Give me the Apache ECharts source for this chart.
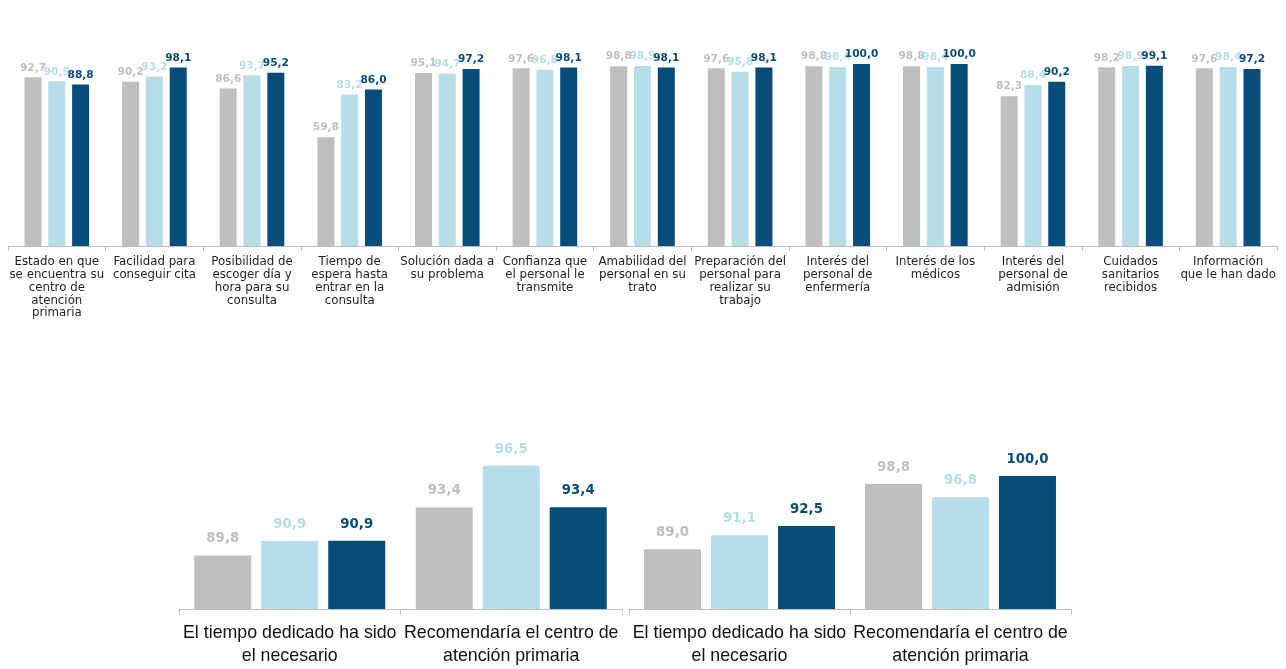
<!DOCTYPE html>
<html>
<head>
<meta charset="utf-8">
<script src="https://cdn.jsdelivr.net/npm/echarts@6/dist/echarts.min.js"></script>
<style>
html,body{margin:0;padding:0;background:#ffffff;}
#c{width:1286px;height:669px;}
</style>
</head>
<body>
<div id="c"></div>
<script>
// ---- Data ----
var topCategories = [
  'Estado en que\nse encuentra su\ncentro de\natención\nprimaria',
  'Facilidad para\nconseguir cita',
  'Posibilidad de\nescoger día y\nhora para su\nconsulta',
  'Tiempo de\nespera hasta\nentrar en la\nconsulta',
  'Solución dada a\nsu problema',
  'Confianza que\nel personal le\ntransmite',
  'Amabilidad del\npersonal en su\ntrato',
  'Preparación del\npersonal para\nrealizar su\ntrabajo',
  'Interés del\npersonal de\nenfermería',
  'Interés de los\nmédicos',
  'Interés del\npersonal de\nadmisión',
  'Cuidados\nsanitarios\nrecibidos',
  'Información\nque le han dado'
];
var topGray  = [92.7, 90.2, 86.6, 59.8, 95.1, 97.6, 98.8, 97.6, 98.8, 98.8, 82.3, 98.2, 97.6];
var topLight = [90.5, 93.2, 93.7, 83.2, 94.7, 96.8, 98.9, 95.8, 98.4, 98.4, 88.4, 98.9, 98.4];
var topDark  = [88.8, 98.1, 95.2, 86.0, 97.2, 98.1, 98.1, 98.1, 100.0, 100.0, 90.2, 99.1, 97.2];

var bottomCategories = [
  'El tiempo dedicado ha sido\nel necesario',
  'Recomendaría el centro de\natención primaria'
];
var leftGray  = [89.8, 93.4];
var leftLight = [90.9, 96.5];
var leftDark  = [90.9, 93.4];
var rightGray  = [89.0, 98.8];
var rightLight = [91.1, 96.8];
var rightDark  = [92.5, 100.0];

// ---- Styles ----
var C_GRAY = '#bfbfbf', C_LIGHT = '#b7dde8', C_DARK = '#074d7b';
function fmt(p){ return p.value.toFixed(1).replace('.', ','); }

function mkSeries(name, data, color, gi, opts){
  return {
    name: name, type: 'bar', xAxisIndex: gi, yAxisIndex: gi,
    data: data,
    barWidth: opts.barWidth, barGap: opts.barGap,
    itemStyle: {color: color},
    label: {
      show: true, position: 'top', distance: opts.dist,
      formatter: fmt, color: color,
      fontFamily: 'DejaVu Sans', fontWeight: 'bold', fontSize: opts.fs
    },
    emphasis: {disabled: true},
    animation: false
  };
}

function mkX(gi, cats, lab){
  return {
    type: 'category', gridIndex: gi, data: cats,
    axisLine: {show: true, lineStyle: {color: '#bfbfbf', width: 1}},
    axisTick: {show: true, length: lab.tick, lineStyle: {color: '#bfbfbf'}},
    axisLabel: {
      interval: 0, margin: lab.margin, color: lab.color,
      fontFamily: lab.font, fontSize: lab.fs, lineHeight: lab.lh
    },
    splitLine: {show: false}
  };
}
function mkY(gi, min, max){
  return {type: 'value', gridIndex: gi, min: min, max: max, show: false, splitLine: {show: false}};
}

var topLab = {tick: 5, margin: 10, color: '#1f1f1f', font: 'DejaVu Sans', fs: 11.8, lh: 12.7};
var botLab = {tick: 6, margin: 13, color: '#111111', font: 'Liberation Sans', fs: 17.8, lh: 23};

var topOpts = {barWidth: 17, barGap: '40%', dist: 4, fs: 10.6};
var botOpts = {barWidth: 57, barGap: '17.5%', dist: 10, fs: 13.3};

var option = {
  backgroundColor: '#ffffff',
  animation: false,
  grid: [
    {left: 8, right: 9, top: 64, bottom: 423, containLabel: false},
    {left: 179, right: 664, top: 419, bottom: 60, containLabel: false},
    {left: 629, right: 215, top: 476, bottom: 60, containLabel: false}
  ],
  xAxis: [
    mkX(0, topCategories, topLab),
    mkX(1, bottomCategories, botLab),
    mkX(2, bottomCategories, botLab)
  ],
  yAxis: [
    mkY(0, 0, 100),
    mkY(1, 85.8, 100),
    mkY(2, 80, 100)
  ],
  series: [
    mkSeries('Serie 1', topGray, C_GRAY, 0, topOpts),
    mkSeries('Serie 2', topLight, C_LIGHT, 0, topOpts),
    mkSeries('Serie 3', topDark, C_DARK, 0, topOpts),
    mkSeries('Serie 1', leftGray, C_GRAY, 1, botOpts),
    mkSeries('Serie 2', leftLight, C_LIGHT, 1, botOpts),
    mkSeries('Serie 3', leftDark, C_DARK, 1, botOpts),
    mkSeries('Serie 1', rightGray, C_GRAY, 2, botOpts),
    mkSeries('Serie 2', rightLight, C_LIGHT, 2, botOpts),
    mkSeries('Serie 3', rightDark, C_DARK, 2, botOpts)
  ]
};

var chart = echarts.init(document.getElementById('c'), null, {renderer: 'canvas'});
chart.setOption(option);
</script>
</body>
</html>
